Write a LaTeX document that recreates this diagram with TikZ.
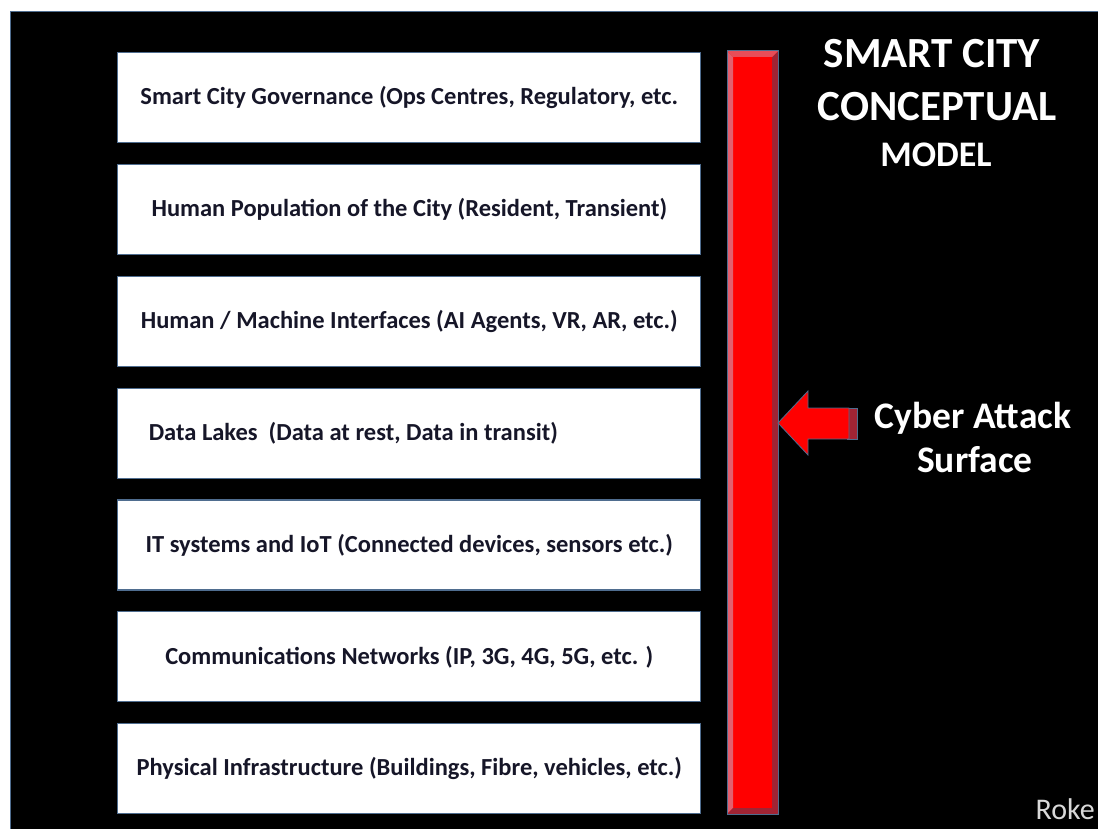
\documentclass[tikz,border=0pt]{standalone}
\usepackage{fontspec}
\setmainfont{Carlito}
\usepackage{tikz}
\usetikzlibrary{matrix}
\definecolor{edgeblue}{RGB}{79,109,143}
\definecolor{boxtext}{RGB}{22,22,40}
\definecolor{barred}{RGB}{255,0,0}
\definecolor{barlight}{RGB}{226,96,110}
\definecolor{bardark}{RGB}{160,36,52}

\begin{document}
\begin{tikzpicture}[x=1pt,y=-1pt,
            layer/.style={draw=edgeblue,line width=1.2pt,fill=white,
                minimum width=583pt,minimum height=90pt,inner sep=0pt,outer sep=0pt,
                font=\fontsize{24.5}{28}\selectfont\bfseries,text=boxtext},
            heading/.style={text=white,font=\bfseries,align=center,inner sep=0pt}]
            \useasboundingbox (0,0) rectangle (1098,829);
            \fill[white] (0,0) rectangle (1098,829);
            \filldraw[fill=black,draw=edgeblue,line width=1pt] (10,12) rectangle (1099,830);

            \matrix (m) [matrix of nodes,
                nodes=layer,
                row sep=20.6pt,
                inner sep=0pt,
                anchor=north west
            ] at (117,52)
            {
                Smart City Governance (Ops Centres, Regulatory, etc. \\
                Human Population of the City (Resident, Transient) \\
                Human / Machine Interfaces (AI Agents, VR, AR, etc.) \\
                Data Lakes\ \ (Data at rest, Data in transit)\hspace*{112pt} \\
                IT systems and IoT (Connected devices, sensors etc.) \\
                Communications Networks (IP, 3G, 4G, 5G, etc. ) \\
                Physical Infrastructure (Buildings, Fibre, vehicles, etc.) \\
            };

            % attack surface bar
            \node (bar) [draw=edgeblue,line width=1pt,fill=barred,inner sep=0pt,
                minimum width=50pt,minimum height=762pt,anchor=north west] at (727,51) {};
            \fill[barlight] (bar.north west) -- (bar.south west) -- ++(6,-6) -- ([shift={(6,6)}]bar.north west) -- cycle;
            \fill[bardark] (bar.north east) -- (bar.south east) -- ++(-6,-6) -- ([shift={(-6,6)}]bar.north east) -- cycle;
            \fill[bardark] (bar.south west) -- (bar.south east) -- ++(-6,-6) -- ([shift={(6,-6)}]bar.south west) -- cycle;
            \fill[barlight!80!barred] (bar.north west) -- (bar.north east) -- ++(-6,6) -- ([shift={(6,6)}]bar.north west) -- cycle;
            \draw[edgeblue,line width=1pt] (bar.north west) rectangle (bar.south east);

            \coordinate (tip) at (bar.east |- 0,423);
            \fill[bardark] (847,408) rectangle (857,439);
            \draw[edgeblue,line width=1pt] (847,408) rectangle (857,439);
            \filldraw[fill=barred,draw=edgeblue,line width=.8pt] (tip) -- (808,391) -- (808,408) -- (849,408)
                -- (849,439) -- (808,439) -- (808,455) -- cycle;

            \node (title1) [heading,font=\fontsize{43}{48}\selectfont\bfseries,anchor=base] at (932,68) {SMART CITY};
            \node (title2) [heading,font=\fontsize{43}{48}\selectfont\bfseries,anchor=base] at (937,121) {CONCEPTUAL};
            \node (title3) [heading,font=\fontsize{36}{40}\selectfont\bfseries,anchor=base] at (936,167) {MODEL};

            \node (cyber) [heading,font=\fontsize{37.5}{42}\selectfont\bfseries,anchor=base] at (973,428) {Cyber Attack};
            \node (surf) [heading,font=\fontsize{37.5}{42}\selectfont\bfseries,anchor=base] at (975,472) {Surface};

            \node (roke) [text=white!85!black,font=\fontsize{30}{34}\selectfont,anchor=base east,inner sep=0pt] at (1095,819) {Roke};

        \end{tikzpicture}
\end{document}
